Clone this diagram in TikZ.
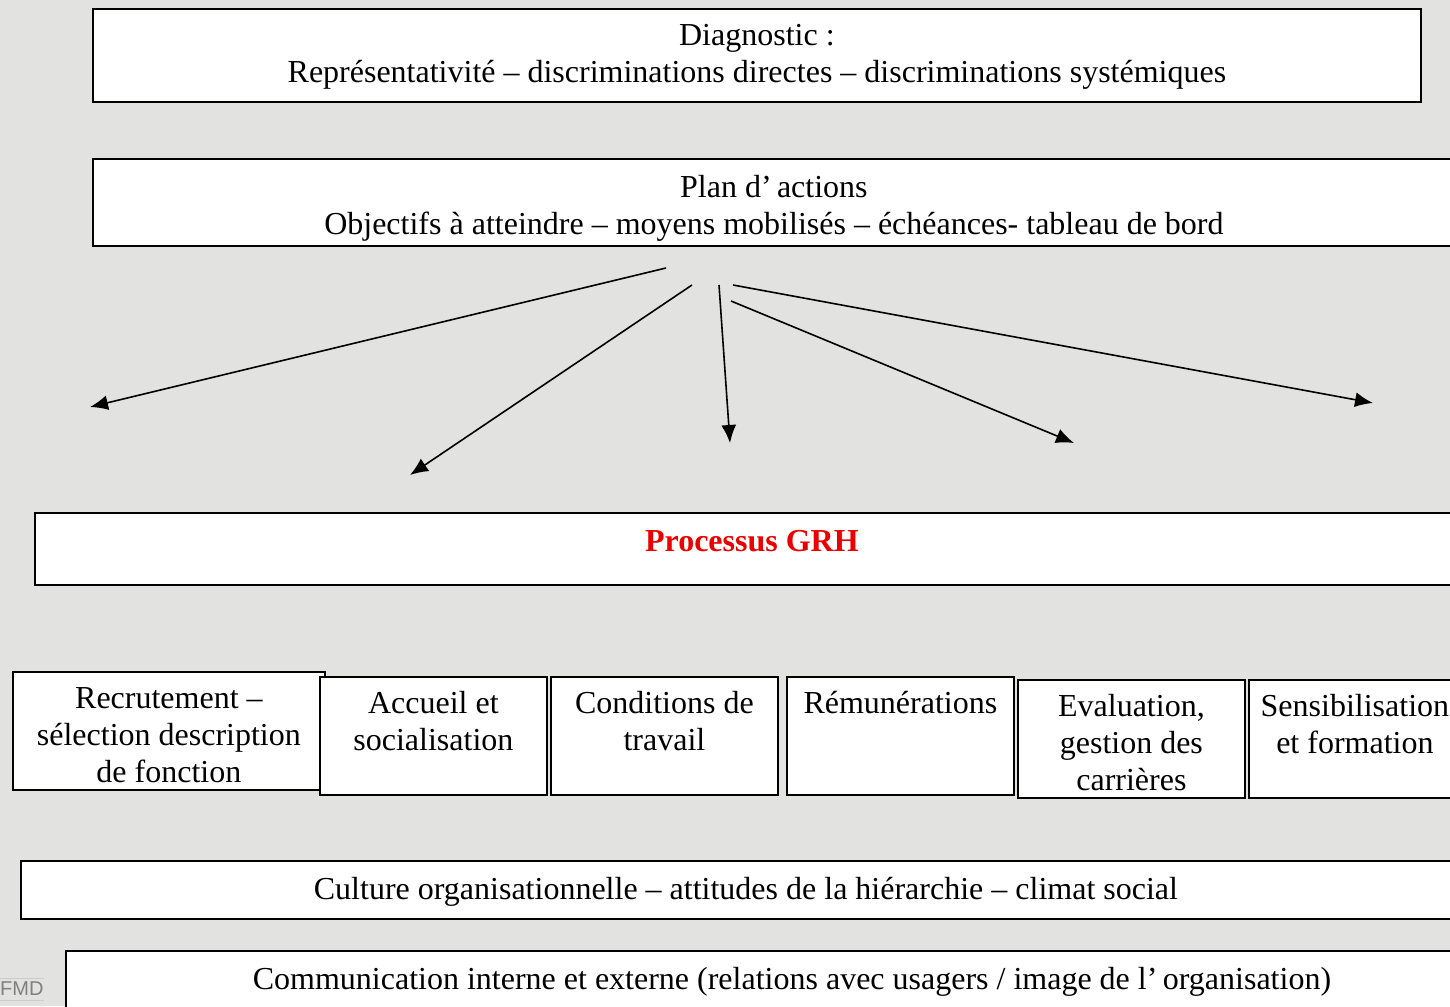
\documentclass[tikz,border=0pt]{standalone}
\usepackage{fontspec}
\setmainfont{Liberation Serif}
\setsansfont{Liberation Sans}
\usetikzlibrary{arrows.meta}
\definecolor{fond}{RGB}{226,226,225}
\definecolor{rougegrh}{RGB}{235,0,0}

\begin{document}
\begin{tikzpicture}[x=1pt,y=-1pt,
    box/.style={draw,line width=1.8pt,fill=white,inner sep=0pt,align=flush center,anchor=north west,
      font=\fontsize{32}{37}\selectfont,text height=39pt},
    cell/.style={box,text height=37pt,text depth=81pt,minimum width=227pt},
    fleche/.style={line width=1.6pt,-{Latex[length=18pt,width=15pt]}}]

    \fill[fond] (0,0) rectangle (1450,1006);
    \useasboundingbox (0,0) rectangle (1450,1006);
    \clip (0,0) rectangle (1450,1006);

    % boites du haut
    \node[box,minimum width=1328pt,text width=1300pt,text height=37pt,text depth=56pt] (diag) at (92,8)
      {Diagnostic :\\Représentativité – discriminations directes – discriminations systémiques};
    \node[box,minimum width=1362pt,text width=1300pt,text depth=48pt] (plan) at (92,158)
      {Plan d’\,actions\\Objectifs à atteindre – moyens mobilisés – échéances- tableau de bord};

    % fleches
    \coordinate (s1) at (666,268);  \coordinate (e1) at (90,407);
    \coordinate (s2) at (692,285);  \coordinate (e2) at (410,475);
    \coordinate (s3) at (719,285);  \coordinate (e3) at (730,443);
    \coordinate (s4) at (731,301);  \coordinate (e4) at (1074,443);
    \coordinate (s5) at (733,285);  \coordinate (e5) at (1373,403);
    \foreach \i in {1,...,5}
        \draw[fleche] (s\i) -- (e\i);

    \node[box,minimum width=1434pt,text width=1400pt,text depth=33pt,
      text=rougegrh,font=\fontsize{32}{37}\selectfont\bfseries] (grh) at (34,512) {Processus GRH};

    % processus
    \node[cell,minimum width=312pt,text width=300pt] (recr) at (12,671)
      {Recrutement –\\sélection description\\de fonction};
    \node[cell,text width=215pt] (accu) at (319,676) {Accueil et\\socialisation};
    \node[cell,text width=215pt] (cond) at (550,676) {Conditions de\\travail};
    \node[cell,text width=215pt] (remu) at (786,676) {Rémunérations};
    \node[cell,text width=215pt] (eval) at (1017,679) {Evaluation,\\gestion des\\carrières};
    \node[cell,minimum width=212pt,text width=200pt] (sens) at (1248,679) {Sensibilisation\\et formation};

    % boites du bas
    \node[box,minimum width=1450pt,text width=1420pt,text depth=19pt] (cult) at (20,860)
      {Culture organisationnelle – attitudes de la hiérarchie – climat social};
    \node[box,minimum width=1452pt,text width=1400pt,text depth=21pt] (comm) at (65,950)
      {Communication interne et externe (relations avec usagers / image de l’\,organisation)};

    \node[text=gray,font=\sffamily\fontsize{20}{20}\selectfont,anchor=west,inner sep=0pt] (logo) at (0,989) {FMD};
    \draw[gray!40,line width=1pt] (logo.west |- 0,978) -- (logo.east |- 0,978)
                                  (logo.west |- 0,1000) -- (logo.east |- 0,1000);
\end{tikzpicture}
\end{document}
